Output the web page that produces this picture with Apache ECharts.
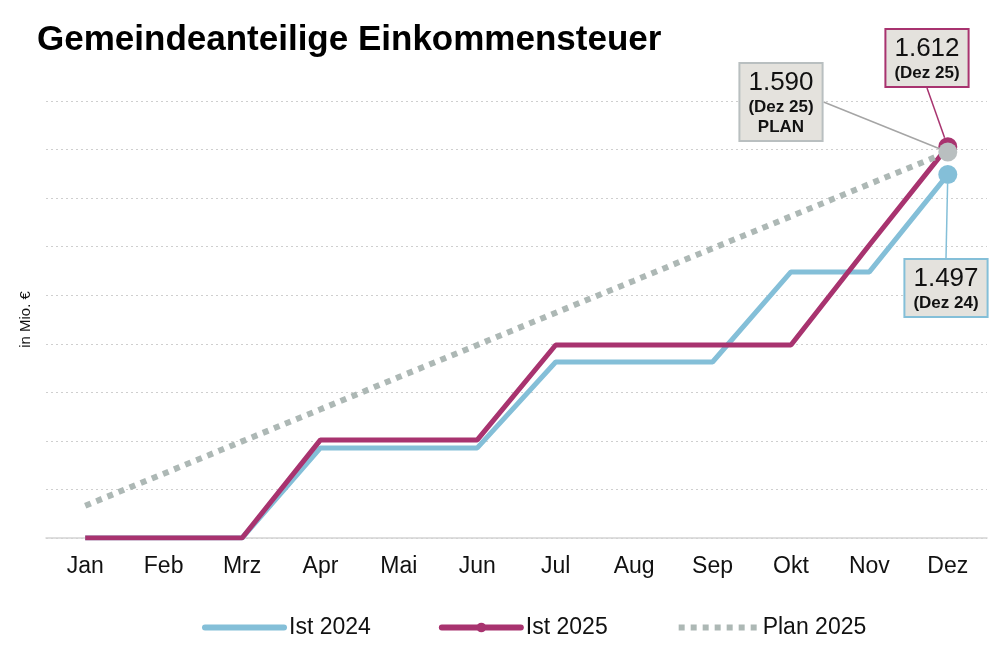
<!DOCTYPE html>
<html>
<head>
<meta charset="utf-8">
<script src="https://cdn.jsdelivr.net/npm/echarts@6/dist/echarts.min.js"></script>
<style>
html,body{margin:0;padding:0;background:#fff;}
#chart{width:1008px;height:672px;}
</style>
</head>
<body>
<div id="chart"></div>
<script>
const categories = ['Jan','Feb','Mrz','Apr','Mai','Jun','Jul','Aug','Sep','Okt','Nov','Dez'];
const ist2024 = [0, 0, 0, 371, 371, 371, 725, 725, 725, 1096, 1096, 1497];
const ist2025 = [0, 0, 0, 404, 404, 404, 795, 795, 795, 795, 1207, 1612];
const plan2025 = [133, 265, 398, 530, 663, 795, 928, 1060, 1193, 1325, 1458, 1590];
const seriesNames = ['Ist 2024', 'Ist 2025', 'Plan 2025'];
const endLabels = {
  'Ist 2024': ['1.497', '(Dez 24)', ''],
  'Ist 2025': ['1.612', '(Dez 25)', ''],
  'Plan 2025': ['1.590', '(Dez 25)', 'PLAN']
};

const BLUE = '#84bfd8', MAG = '#a8336f', GREY = '#adb8b5', GREYM = '#b9bfc0', BOX = '#e4e2dd';
const FONT = '"Liberation Sans", Arial, sans-serif';

function buildData(vals, name, color, boxBorder, lineColor) {
  return vals.map((v, i) => {
    if (i !== vals.length - 1) return { value: v, symbolSize: 0 };
    const t = endLabels[name];
    let fmt = '{a|' + t[0] + '}\n{b|' + t[1] + '}';
    if (t[2]) fmt += '\n{b|' + t[2] + '}';
    return {
      value: v,
      symbolSize: 19,
      itemStyle: { color: color },
      label: {
        show: true,
        formatter: fmt,
        backgroundColor: BOX,
        borderColor: boxBorder,
        borderWidth: 2,
        padding: [4, 8, 3, 8],
        rich: {
          a: { fontFamily: FONT, fontSize: 26, color: '#111', lineHeight: 29, align: 'center' },
          b: { fontFamily: FONT, fontSize: 17, fontWeight: 'bold', color: '#111', lineHeight: 20, align: 'center' }
        }
      },
      labelLine: { show: true, lineStyle: { color: lineColor, width: 1.5 } }
    };
  });
}

const chart = echarts.init(document.getElementById('chart'));
chart.setOption({
  animation: false,
  backgroundColor: '#fff',
  title: {
    text: 'Gemeindeanteilige Einkommensteuer',
    left: 37, top: 23, padding: 0,
    textStyle: { fontFamily: FONT, fontSize: 35, fontWeight: 'bold', color: '#000' }
  },
  grid: { left: 46, right: 21, top: 101, bottom: 134 },
  legend: {
    left: 202, top: 616, padding: 0,
    itemWidth: 79, itemHeight: 12, itemGap: 68,
    textStyle: { fontFamily: FONT, fontSize: 23, color: '#111' },
    data: [
      { name: 'Ist 2024', itemStyle: { opacity: 0 }, lineStyle: { width: 6, cap: 'round' } },
      { name: 'Ist 2025', lineStyle: { width: 6, cap: 'round' } },
      { name: 'Plan 2025', itemStyle: { opacity: 0 }, lineStyle: { width: 6 } }
    ]
  },
  xAxis: {
    type: 'category',
    data: categories,
    boundaryGap: true,
    axisLine: { lineStyle: { color: '#d4d4d4', width: 1.5 } },
    axisTick: { show: false },
    axisLabel: { fontFamily: FONT, fontSize: 23, color: '#111', margin: 17 }
  },
  yAxis: {
    type: 'value',
    min: 0, max: 1800, interval: 200,
    name: 'in Mio. €',
    nameLocation: 'middle',
    nameGap: 13,
    nameTextStyle: { fontFamily: FONT, fontSize: 15, color: '#111' },
    axisLabel: { show: false },
    axisLine: { show: false },
    axisTick: { show: false },
    splitLine: { lineStyle: { color: '#cfcfcf', type: [2, 3], width: 1.2 } }
  },
  series: [
    {
      name: seriesNames[0], type: 'line', data: buildData(ist2024, 'Ist 2024', BLUE, BLUE, BLUE),
      symbol: 'circle', showAllSymbol: true, z: 3,
      lineStyle: { color: BLUE, width: 5 }, itemStyle: { color: BLUE },
      labelLayout: function (p) {
        return { x: 946, y: 288, align: 'center', verticalAlign: 'middle',
          labelLinePoints: [[p.rect.x + p.rect.width / 2, p.rect.y + p.rect.height / 2], [950, 220], [952, 258]] };
      }
    },
    {
      name: seriesNames[1], type: 'line', data: buildData(ist2025, 'Ist 2025', MAG, MAG, MAG),
      symbol: 'circle', showAllSymbol: true, z: 4,
      lineStyle: { color: MAG, width: 5 }, itemStyle: { color: MAG },
      labelLayout: function (p) {
        return { x: 927, y: 58, align: 'center', verticalAlign: 'middle',
          labelLinePoints: [[p.rect.x + p.rect.width / 2, p.rect.y + p.rect.height / 2], [935, 115], [925, 87]] };
      }
    },
    {
      name: seriesNames[2], type: 'line', data: buildData(plan2025, 'Plan 2025', GREYM, GREYM, '#a5a5a5'),
      symbol: 'circle', showAllSymbol: true, z: 5,
      lineStyle: { color: GREY, width: 6, type: [6, 6], cap: 'butt' }, itemStyle: { color: GREYM },
      labelLayout: function (p) {
        return { x: 781, y: 102, align: 'center', verticalAlign: 'middle',
          labelLinePoints: [[p.rect.x + p.rect.width / 2, p.rect.y + p.rect.height / 2], [837, 100], [825, 100]] };
      }
    }
  ]
});
</script>
</body>
</html>
